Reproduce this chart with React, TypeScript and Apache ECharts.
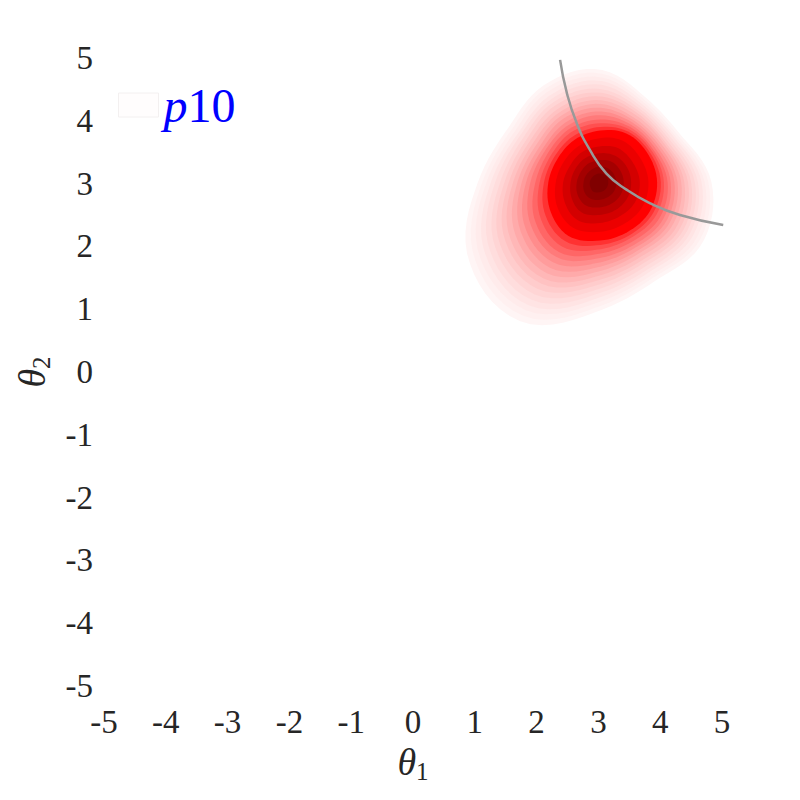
import React, { useEffect, useRef } from "react";
import * as echarts from "echarts";

// Axis ticks
const AXIS_MIN = -5;
const AXIS_MAX = 5;
const AXIS_STEP = 1;

// Density peak (data coords)
const PEAK = [3.0, 3.02];

// Contour directions (degrees from +θ1 axis, counter-clockwise)
const DIRECTIONS = [0, 30, 60, 90, 120, 150, 180, 210, 240, 270, 300, 330];

// Filled contour levels, outermost first: distance from the peak to each level's edge, per direction
const LEVEL_RADII = [
  [1.83, 1.53, 1.55, 1.8, 1.78, 1.7, 1.95, 2.43, 2.55, 2.05, 1.82, 1.94],
  [1.78, 1.49, 1.51, 1.74, 1.72, 1.64, 1.88, 2.33, 2.45, 1.98, 1.76, 1.88],
  [1.72, 1.45, 1.47, 1.68, 1.66, 1.58, 1.81, 2.24, 2.35, 1.91, 1.71, 1.82],
  [1.67, 1.42, 1.43, 1.62, 1.59, 1.52, 1.74, 2.14, 2.26, 1.84, 1.65, 1.75],
  [1.61, 1.38, 1.39, 1.56, 1.53, 1.47, 1.67, 2.05, 2.16, 1.77, 1.6, 1.69],
  [1.56, 1.34, 1.35, 1.49, 1.47, 1.41, 1.59, 1.95, 2.06, 1.7, 1.54, 1.63],
  [1.5, 1.3, 1.31, 1.43, 1.41, 1.35, 1.52, 1.86, 1.96, 1.63, 1.48, 1.57],
  [1.45, 1.26, 1.27, 1.37, 1.34, 1.29, 1.45, 1.76, 1.86, 1.56, 1.43, 1.51],
  [1.39, 1.23, 1.23, 1.31, 1.28, 1.23, 1.38, 1.67, 1.77, 1.49, 1.37, 1.45],
  [1.34, 1.19, 1.18, 1.25, 1.22, 1.17, 1.31, 1.57, 1.67, 1.42, 1.31, 1.38],
  [1.28, 1.15, 1.14, 1.19, 1.16, 1.11, 1.24, 1.47, 1.57, 1.35, 1.26, 1.32],
  [1.23, 1.11, 1.1, 1.13, 1.09, 1.05, 1.17, 1.38, 1.47, 1.28, 1.2, 1.26],
  [1.17, 1.07, 1.06, 1.07, 1.03, 1.0, 1.1, 1.28, 1.37, 1.21, 1.15, 1.2],
  [1.12, 1.03, 1.02, 1.0, 0.97, 0.94, 1.02, 1.19, 1.28, 1.14, 1.09, 1.14],
  [1.06, 1.0, 0.98, 0.94, 0.91, 0.88, 0.95, 1.09, 1.18, 1.07, 1.03, 1.07],
  [1.01, 0.96, 0.94, 0.88, 0.84, 0.82, 0.88, 1.0, 1.08, 1.0, 0.98, 1.01],
  [0.95, 0.92, 0.9, 0.82, 0.78, 0.76, 0.81, 0.9, 0.98, 0.93, 0.92, 0.95],
  [0.81, 0.78, 0.77, 0.7, 0.66, 0.65, 0.69, 0.77, 0.83, 0.79, 0.78, 0.81],
  [0.67, 0.64, 0.63, 0.57, 0.55, 0.53, 0.57, 0.63, 0.69, 0.65, 0.64, 0.67],
  [0.53, 0.52, 0.5, 0.46, 0.44, 0.43, 0.45, 0.5, 0.55, 0.52, 0.52, 0.53],
  [0.41, 0.4, 0.39, 0.35, 0.34, 0.33, 0.35, 0.39, 0.42, 0.4, 0.4, 0.41],
  [0.29, 0.28, 0.27, 0.25, 0.23, 0.23, 0.24, 0.27, 0.29, 0.28, 0.28, 0.29],
  [0.16, 0.16, 0.15, 0.14, 0.13, 0.13, 0.14, 0.15, 0.17, 0.16, 0.16, 0.16],
];
const LEVEL_COLORS = [
  "#fff5f5", "#fff0f0", "#ffebeb", "#ffe4e4", "#ffdddd", "#ffd5d5", "#ffcccc",
  "#ffc2c2", "#ffb7b7", "#ffaaaa", "#ff9c9c", "#ff8c8c", "#ff7a7a", "#ff6666",
  "#ff5050", "#ff3232", "#ff0000", "#ec0000", "#d40000", "#bc0000", "#a40000",
  "#900000", "#800000",
];

// Gray boundary curve (θ1, θ2)
const CURVE_X = [2.38, 2.49, 2.65, 2.86, 3.13, 3.46, 3.83, 4.32, 5.02];
const CURVE_Y = [4.97, 4.44, 3.96, 3.54, 3.16, 2.9, 2.69, 2.5, 2.34];

const LEGEND_NAME = "p10";

const FONT = "'Liberation Serif', 'DejaVu Serif', serif";

// Smooth closed outline through the read radii (periodic Catmull-Rom in angle), for drawing only
function smoothRadius(radii: number[], angleDeg: number): number {
  const n = radii.length;
  const step = 360 / n;
  const pos = angleDeg / step;
  const k = Math.floor(pos);
  const u = pos - k;
  const p0 = radii[(k - 1 + n) % n];
  const p1 = radii[k % n];
  const p2 = radii[(k + 1) % n];
  const p3 = radii[(k + 2) % n];
  const u2 = u * u;
  const u3 = u2 * u;
  return 0.5 * (2 * p1 + (-p0 + p2) * u + (2 * p0 - 5 * p1 + 4 * p2 - p3) * u2 + (-p0 + 3 * p1 - 3 * p2 + p3) * u3);
}

export default function App() {
  const ref = useRef<HTMLDivElement>(null);
  useEffect(() => {
    if (!ref.current) return;
    const chart = echarts.init(ref.current, undefined, { renderer: "svg" });
    const axisCommon = {
      type: "value" as const,
      min: AXIS_MIN,
      max: AXIS_MAX,
      interval: AXIS_STEP,
      axisLine: { show: false },
      axisTick: { show: false },
      splitLine: { show: false },
      nameLocation: "middle" as const,
    };
    const nameRich = {
      t: { fontFamily: FONT, fontStyle: "italic", fontSize: 38, color: "#262626" },
      s: { fontFamily: FONT, fontSize: 25, color: "#262626", padding: [20, 0, 0, 0] },
    };
    chart.setOption({
      animation: false,
      backgroundColor: "#ffffff",
      grid: { left: 104, right: 78, top: 58, bottom: 114 },
      legend: {
        left: 113,
        top: 76,
        itemWidth: 40,
        itemHeight: 24,
        icon: "rect",
        data: [
          {
            name: LEGEND_NAME,
            itemStyle: { color: "#fffdfd", borderColor: "#f3f0f0", borderWidth: 1 },
          },
        ],
        formatter: () => "{p|p}{n|10}",
        textStyle: {
          color: "#0000ff",
          rich: {
            p: { fontFamily: FONT, fontStyle: "italic", fontSize: 48, color: "#0000ff" },
            n: { fontFamily: FONT, fontSize: 48, color: "#0000ff" },
          },
        },
      },
      xAxis: {
        ...axisCommon,
        name: "{t|θ}{s|1}",
        nameGap: 50,
        nameTextStyle: { rich: nameRich },
        axisLabel: { fontFamily: FONT, fontSize: 33, color: "#262626", margin: 19 },
      },
      yAxis: {
        ...axisCommon,
        name: "{t|θ}{s|2}",
        nameGap: 50,
        nameRotate: 90,
        nameTextStyle: { rich: nameRich },
        axisLabel: { fontFamily: FONT, fontSize: 33, color: "#262626", margin: 11 },
      },
      series: [
        {
          name: LEGEND_NAME,
          type: "custom",
          coordinateSystem: "cartesian2d",
          itemStyle: { color: "#fffdfd" },
          encode: { x: 0, y: 1 },
          data: LEVEL_RADII.map((_, i) => [PEAK[0], PEAK[1], i]),
          renderItem: (params: any, api: any) => {
            const idx = api.value(2);
            const radii = LEVEL_RADII[idx];
            const points: number[][] = [];
            for (let deg = 0; deg < 360; deg += 4) {
              const r = smoothRadius(radii, deg);
              const a = (deg * Math.PI) / 180;
              points.push(api.coord([PEAK[0] + r * Math.cos(a), PEAK[1] + r * Math.sin(a)]));
            }
            return {
              type: "polygon",
              shape: { points },
              style: { fill: LEVEL_COLORS[idx], stroke: "none" },
            };
          },
          z: 1,
        },
        {
          name: "boundary",
          type: "line",
          data: CURVE_X.map((x, i) => [x, CURVE_Y[i]]),
          smooth: true,
          symbol: "none",
          lineStyle: { color: "#999999", width: 2.5 },
          z: 2,
        },
      ],
    });
    return () => chart.dispose();
  }, []);
  return <div ref={ref} style={{ width: 800, height: 800, margin: -8 }} />;
}
